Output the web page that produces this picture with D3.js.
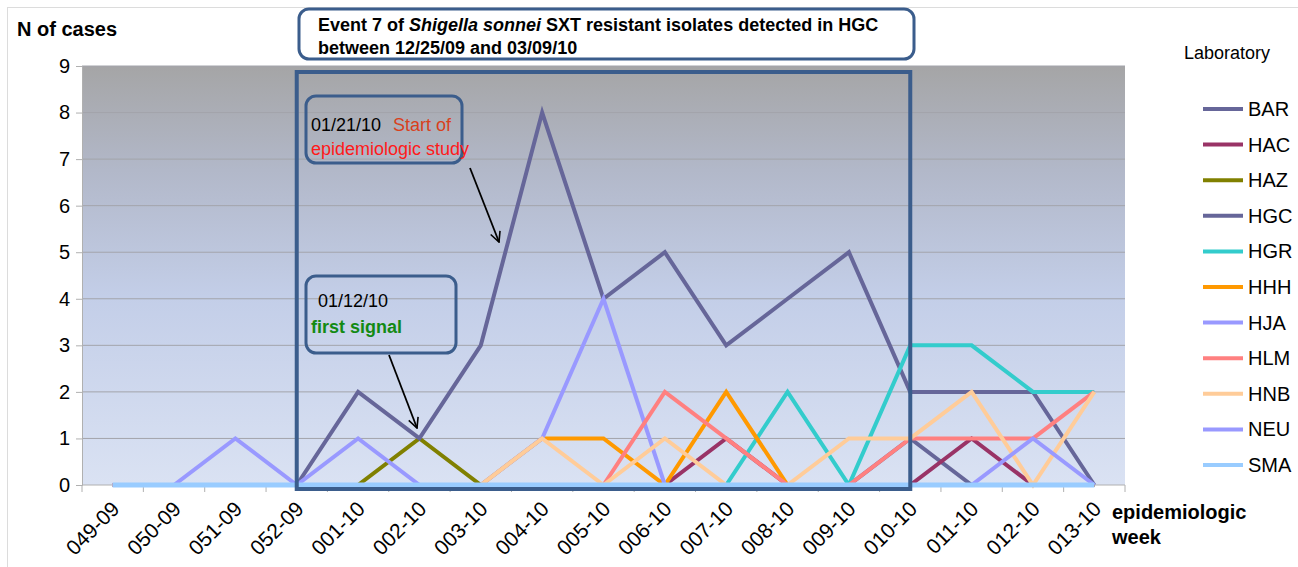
<!DOCTYPE html>
<html>
<head>
<meta charset="utf-8">
<script src="https://cdn.jsdelivr.net/npm/d3@7"></script>
<style>
  html, body { margin: 0; padding: 0; background: #fff; }
  svg { display: block; font-family: "Liberation Sans", Arial, sans-serif; }
</style>
</head>
<body>
<svg id="chart" width="1298" height="567"></svg>
<script>
// ---- data ----
const weeks = ["049-09","050-09","051-09","052-09","001-10","002-10","003-10","004-10","005-10","006-10","007-10","008-10","009-10","010-10","011-10","012-10","013-10"];
const labs = ["BAR","HAC","HAZ","HGC","HGR","HHH","HJA","HLM","HNB","NEU","SMA"];
const BAR = [0,0,0,0,0,0,0,0,0,0,0,0,0,1,0,0,0];
const HAC = [0,0,0,0,0,0,0,0,0,0,1,0,0,0,1,0,0];
const HAZ = [0,0,0,0,0,1,0,0,0,0,0,0,0,0,0,0,0];
const HGC = [0,0,0,0,2,1,3,8,4,5,3,4,5,2,2,2,0];
const HGR = [0,0,0,0,0,0,0,0,0,0,0,2,0,3,3,2,2];
const HHH = [0,0,0,0,0,0,0,1,1,0,2,0,0,0,0,0,0];
const HJA = [0,0,1,0,1,0,0,1,4,0,0,0,0,0,0,0,0];
const HLM = [0,0,0,0,0,0,0,0,0,2,1,0,0,1,1,1,2];
const HNB = [0,0,0,0,0,0,0,1,0,1,0,0,1,1,2,0,2];
const NEU = [0,0,0,0,0,0,0,0,0,0,0,0,0,0,0,1,0];
const SMA = [0,0,0,0,0,0,0,0,0,0,0,0,0,0,0,0,0];
const seriesValues = [BAR,HAC,HAZ,HGC,HGR,HHH,HJA,HLM,HNB,NEU,SMA];
const labColors = ["#666699","#993366","#808000","#666699","#33CCCC","#FF9900","#9999FF","#FF8080","#FFCC99","#9999FF","#99CCFF"];
const yTicks = [0,1,2,3,4,5,6,7,8,9];

// ---- layout ----
const svg = d3.select("#chart");
const L = 82, R = 1125, T = 66, B = 485;
const x = d3.scaleBand().domain(weeks).range([L, R]);
const y = d3.scaleLinear().domain([0, 9]).range([B, T]);
const cx = d => x(d) + x.bandwidth() / 2;

// outer frame
svg.append("rect").attr("x", 7.5).attr("y", 7.5).attr("width", 1320).attr("height", 600)
  .attr("fill", "none").attr("stroke", "#dcdcdc").attr("stroke-width", 1);

// gradient background
const defs = svg.append("defs");
const grad = defs.append("linearGradient").attr("id", "bg").attr("x1", 0).attr("y1", 0).attr("x2", 0).attr("y2", 1);
[["0%","#a5a5a6"],["25%","#b2b8c9"],["55%","#c3cee8"],["100%","#dae2f3"]].forEach(s =>
  grad.append("stop").attr("offset", s[0]).attr("stop-color", s[1]));
const mk = defs.append("marker").attr("id", "arr").attr("viewBox", "0 0 12 12").attr("refX", 11).attr("refY", 6)
  .attr("markerWidth", 12).attr("markerHeight", 12).attr("markerUnits", "userSpaceOnUse").attr("orient", "auto");
mk.append("path").attr("d", "M1,1 L11,6 L1,11").attr("fill", "none").attr("stroke", "#000").attr("stroke-width", 1.6);

svg.append("rect").attr("x", L).attr("y", T).attr("width", R - L).attr("height", B - T).attr("fill", "url(#bg)");

// gridlines
svg.append("g").selectAll("line").data(yTicks.filter(t => t > 0)).join("line")
  .attr("x1", L).attr("x2", R).attr("y1", d => y(d)).attr("y2", d => y(d))
  .attr("stroke", "#a3a4ab").attr("stroke-width", 1);

// y axis
const yAxis = svg.append("g").attr("transform", `translate(${L},0)`)
  .call(d3.axisLeft(y).tickValues(yTicks).tickSize(6).tickPadding(6).tickFormat(d3.format("d")));
yAxis.select(".domain").attr("stroke", "#b0b0b0");
yAxis.selectAll(".tick line").attr("stroke", "#b0b0b0");
yAxis.selectAll("text").attr("font-size", 20).attr("fill", "#000").attr("font-family", "Liberation Sans, Arial");

// x axis
const xg = svg.append("g").attr("transform", `translate(0,${B})`);
xg.append("line").attr("x1", L).attr("x2", R).attr("stroke", "#b0b0b0");
const bounds = weeks.map(w => x(w)).concat([R]);
xg.selectAll("line.tk").data(bounds).join("line").attr("class", "tk")
  .attr("x1", d => d).attr("x2", d => d).attr("y1", 0).attr("y2", 7).attr("stroke", "#b0b0b0");
xg.selectAll("text").data(weeks).join("text")
  .attr("transform", d => `translate(${cx(d) + 3},${20}) rotate(-45)`)
  .attr("text-anchor", "end").attr("dy", "0.35em")
  .attr("font-size", 21).attr("fill", "#000").text(d => d);

// lines
const line = d3.line().x((d, i) => cx(weeks[i])).y(d => y(d));
svg.append("g").selectAll("path").data(seriesValues).join("path")
  .attr("d", d => line(d)).attr("fill", "none")
  .attr("stroke", (d, i) => labColors[i])
  .attr("stroke-width", (d, i) => labs[i] === "SMA" ? 5 : 4)
  .attr("stroke-linejoin", "miter");

// highlight box
const boxColor = "#3b5d8c";
svg.append("rect").attr("x", cx("052-09")).attr("y", 72)
  .attr("width", cx("010-10") - cx("052-09")).attr("height", 489 - 72)
  .attr("fill", "none").attr("stroke", boxColor).attr("stroke-width", 4);

// title box
svg.append("rect").attr("x", 299).attr("y", 9).attr("width", 615).attr("height", 50).attr("rx", 10)
  .attr("fill", "#fff").attr("stroke", boxColor).attr("stroke-width", 3);
const t1 = svg.append("text").attr("x", 318).attr("y", 31).attr("font-size", 18).attr("font-weight", "bold");
t1.append("tspan").text("Event 7 of ");
t1.append("tspan").attr("font-style", "italic").text("Shigella sonnei");
t1.append("tspan").text(" SXT resistant isolates detected in HGC");
svg.append("text").attr("x", 318).attr("y", 54).attr("font-size", 18).attr("font-weight", "bold")
  .text("between 12/25/09 and 03/09/10");

// axis titles
svg.append("text").attr("x", 17).attr("y", 36).attr("font-size", 20).attr("font-weight", "bold").text("N of cases");
svg.append("text").attr("x", 1112).attr("y", 519).attr("font-size", 20).attr("font-weight", "bold").text("epidemiologic");
svg.append("text").attr("x", 1112).attr("y", 544).attr("font-size", 20).attr("font-weight", "bold").text("week");

// annotation boxes
svg.append("rect").attr("x", 306).attr("y", 96).attr("width", 156).attr("height", 67).attr("rx", 10)
  .attr("fill", "none").attr("stroke", boxColor).attr("stroke-width", 3);
const a1 = svg.append("text").attr("x", 311).attr("y", 131).attr("font-size", 18);
a1.append("tspan").attr("fill", "#000").text("01/21/10");
a1.append("tspan").attr("fill", "#d9401c").attr("dx", 12).text("Start of");
svg.append("text").attr("x", 311).attr("y", 155).attr("font-size", 18).attr("fill", "#ff1a1a").text("epidemiologic study");
svg.append("line").attr("x1", 470).attr("y1", 168).attr("x2", 499).attr("y2", 242)
  .attr("stroke", "#000").attr("stroke-width", 1.8).attr("marker-end", "url(#arr)");

svg.append("rect").attr("x", 306).attr("y", 276).attr("width", 150).attr("height", 77).attr("rx", 10)
  .attr("fill", "none").attr("stroke", boxColor).attr("stroke-width", 3);
svg.append("text").attr("x", 318).attr("y", 307).attr("font-size", 18).attr("fill", "#000").text("01/12/10");
svg.append("text").attr("x", 311).attr("y", 333).attr("font-size", 18).attr("font-weight", "bold").attr("fill", "#138a13").text("first signal");
svg.append("line").attr("x1", 389).attr("y1", 355).attr("x2", 417).attr("y2", 428)
  .attr("stroke", "#000").attr("stroke-width", 1.8).attr("marker-end", "url(#arr)");

// legend
svg.append("text").attr("x", 1184).attr("y", 59).attr("font-size", 18).text("Laboratory");
const lg = svg.append("g").selectAll("g").data(labs).join("g")
  .attr("transform", (d, i) => `translate(1203,${109 + i * 35.6})`);
lg.append("line").attr("x1", 0).attr("x2", 40).attr("stroke", (d, i) => labColors[i]).attr("stroke-width", 4);
lg.append("text").attr("x", 45).attr("y", 7).attr("font-size", 20).text(d => d);
</script>
</body>
</html>
